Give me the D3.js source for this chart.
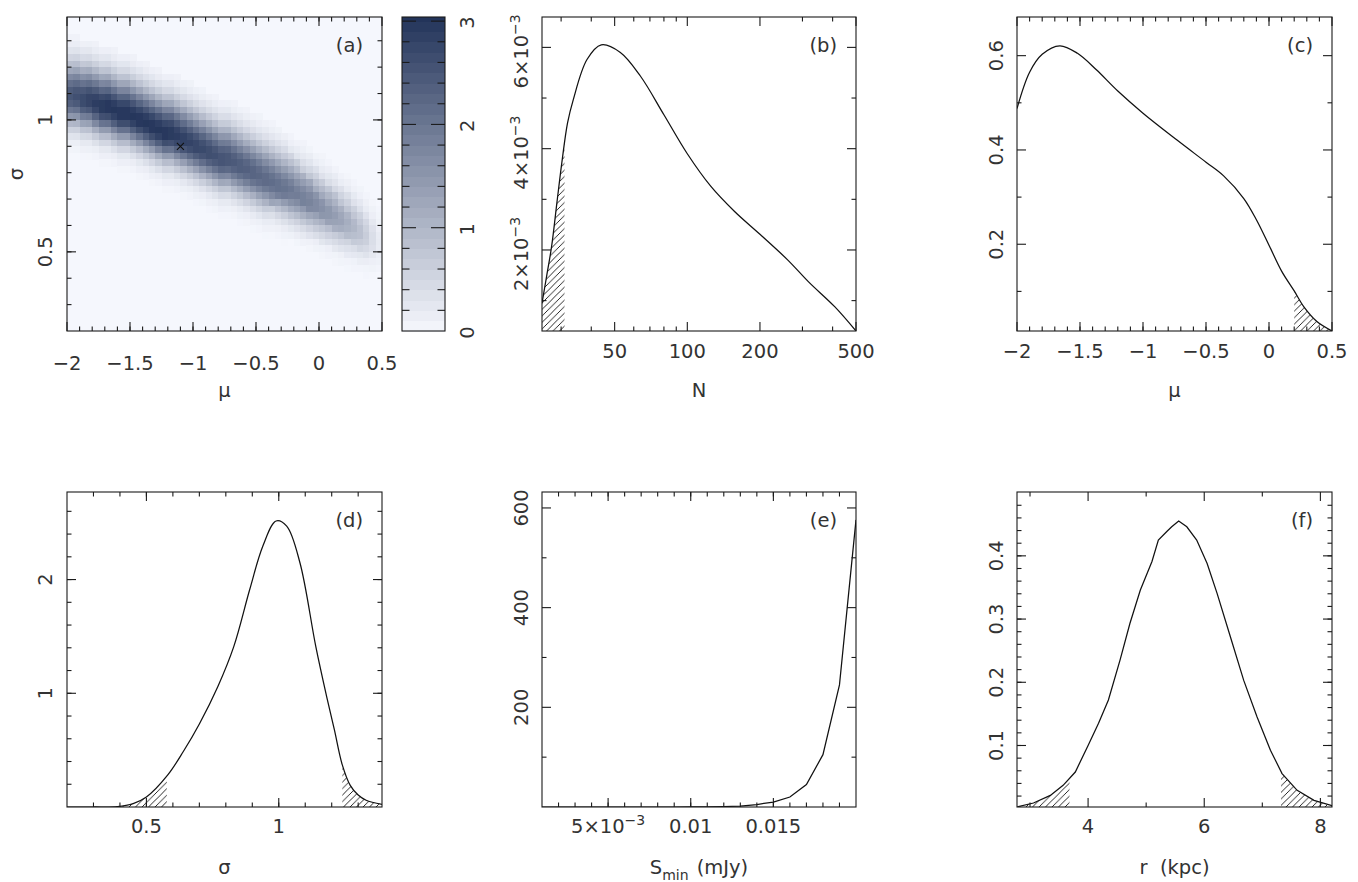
<!DOCTYPE html>
<html><head><meta charset="utf-8">
<script src="https://cdn.jsdelivr.net/npm/d3@7"></script>
<style>
body{margin:0;background:#fff;}
svg text{font-family:"DejaVu Sans",sans-serif;fill:#333;}
</style></head><body>
<svg id="chart" width="1358" height="882"></svg>
<script>
// ---------------- DATA ----------------
// (a) joint density in (mu, sigma). Grid: 50 mu-columns of 0.05 from -2, 48 sigma-rows of 0.025 down from 1.4.
// Per column: ridge centre in sigma, ridge peak density, relative band width.
const heatRidgeSigma = [1.088,1.082,1.076,1.069,1.062,1.055,1.047,1.039,1.030,1.021,1.012,1.001,0.990,0.979,0.967,0.956,0.944,0.933,0.922,0.911,
  0.900,0.889,0.878,0.867,0.856,0.845,0.834,0.823,0.812,0.801,0.790,0.778,0.766,0.754,0.742,0.730,0.717,0.704,0.690,0.676,
  0.662,0.648,0.634,0.620,0.605,0.590,0.575,0.560,0.545,0.530];
const heatRidgePeak = [2.5,2.6,2.7,2.8,2.9,2.95,3.0,3.0,3.0,3.0,3.0,3.0,3.0,3.0,3.0,3.0,2.95,2.9,2.85,2.8,
  2.75,2.7,2.65,2.6,2.55,2.5,2.45,2.4,2.35,2.3,2.25,2.2,2.15,2.1,2.05,2.0,1.9,1.85,1.8,1.7,
  1.6,1.5,1.4,1.3,1.15,1.0,0.85,0.65,0.4,0.2];
const heatBandWidth = [1,1,1,1,1,1,1,1,1,1,1,1,1,1,1,1,1,1,1,1,1,1,1,1,1,1,1,1,1,1,
  1,0.99,0.97,0.96,0.95,0.93,0.92,0.91,0.9,0.88,0.87,0.86,0.85,0.83,0.82,0.81,0.8,0.78,0.77,0.75];
// band cross-section (fraction of peak) at half-row steps, above (higher sigma) and below the ridge
const heatProfileUpper = [1,.99,.96,.91,.84,.76,.68,.59,.50,.42,.34,.27,.21,.16,.12,.09,.06,.04,.03];
const heatProfileLower = [1,.99,.94,.88,.79,.69,.59,.48,.39,.30,.23,.17,.12,.08,.05,.04,.02,.01,0];
const bestFit = {mu: -1.1, sigma: 0.9};

// (b) N
const bN = [25, 26.1, 27.4, 28.8, 30.2, 31.9, 33.7, 38.4, 44, 52.8, 64, 80, 100, 125, 157, 200, 261, 318, 408, 500];
const bP = [0.00095, 0.00147, 0.00207, 0.00292, 0.00372, 0.00451, 0.00497, 0.00576, 0.00605, 0.0059, 0.00543, 0.00467, 0.0039, 0.00326, 0.00276, 0.00231, 0.0018, 0.00137, 0.00088, 0.0004];
// (c) mu
const cMu = [-2, -1.9, -1.8, -1.66, -1.52, -1.37, -1.2, -1.0, -0.73, -0.5, -0.36, -0.2, -0.1, 0, 0.1, 0.2, 0.28, 0.38, 0.5];
const cP  = [0.488, 0.565, 0.603, 0.621, 0.605, 0.570, 0.525, 0.478, 0.421, 0.374, 0.345, 0.297, 0.252, 0.198, 0.143, 0.101, 0.066, 0.036, 0.016];
// (d) sigma
const dS = [0.2, 0.3, 0.39, 0.45, 0.5, 0.58, 0.64, 0.7, 0.77, 0.83, 0.89, 0.94, 0.99, 1.03, 1.08, 1.14, 1.18, 1.21, 1.24, 1.27, 1.30, 1.33, 1.39];
const dP = [0, 0, 0.003, 0.03, 0.088, 0.28, 0.49, 0.73, 1.06, 1.41, 1.91, 2.295, 2.515, 2.47, 2.148, 1.41, 0.98, 0.68, 0.37, 0.19, 0.105, 0.059, 0.024];
// (e) S_min
const eS = [0.001,0.002,0.003,0.004,0.005,0.006,0.007,0.008,0.009,0.010,0.011,0.012,0.013,0.014,0.015,0.016,0.017,0.018,0.019,0.020];
const eP = [0,0,0,0,0,0,0,0,0,0.1,0.3,0.8,2,5,10,20,45,105,245,576];
// (f) r
const fR = [2.78, 3.06, 3.35, 3.57, 3.78, 4.0, 4.18, 4.35, 4.55, 4.72, 4.9, 5.1, 5.21, 5.36, 5.44, 5.56, 5.7, 5.87, 6.05, 6.22, 6.45, 6.68, 6.91, 7.14, 7.34, 7.6, 7.89, 8.2];
const fP = [0.003, 0.009, 0.021, 0.037, 0.058, 0.100, 0.135, 0.172, 0.235, 0.293, 0.346, 0.391, 0.425, 0.439, 0.446, 0.455, 0.446, 0.425, 0.388, 0.341, 0.272, 0.203, 0.145, 0.0925, 0.0556, 0.029, 0.0133, 0.005];

// hatched (excluded) ranges
const bHatch = [[25, 31]];
const cHatch = [[0.2, 0.5]];
const dHatch = [[0.2, 0.577], [1.24, 1.39]];
const fHatch = [[2.776, 3.68], [7.32, 8.2]];

// tick labels
const muTicks = [-2, -1.5, -1, -0.5, 0, 0.5];
const muTickLabels = ["\u22122", "\u22121.5", "\u22121", "\u22120.5", "0", "0.5"];
const sigTicks = [0.5, 1];
const sigTickLabels = ["0.5", "1"];
const barTicks = [0, 1, 2, 3];
const barTickLabels = ["0", "1", "2", "3"];
const bXTicks = [50, 100, 200, 500];
const bXTickLabels = ["50", "100", "200", "500"];
const bXMinor = [30, 40, 60, 70, 80, 90, 300, 400];
const bYTicks = [0.002, 0.004, 0.006];
const bYTickMant = ["2", "4", "6"];
const cYTicks = [0.2, 0.4, 0.6];
const cYTickLabels = ["0.2", "0.4", "0.6"];
const dYTicks = [1, 2];
const dYTickLabels = ["1", "2"];
const eXTicks = [0.005, 0.01, 0.015];
const eXTickLabels = ["5\u00d710|\u22123", "0.01", "0.015"];
const eYTicks = [200, 400, 600];
const eYTickLabels = ["200", "400", "600"];
const fXTicks = [4, 6, 8];
const fXTickLabels = ["4", "6", "8"];
const fYTicks = [0.1, 0.2, 0.3, 0.4];
const fYTickLabels = ["0.1", "0.2", "0.3", "0.4"];

// ---------------- LAYOUT ----------------
const BOX = {
  a: {l: 67, r: 382, t: 17, b: 331}, bar: {l: 402, r: 445, t: 17, b: 331},
  b: {l: 542, r: 856, t: 17, b: 331}, c: {l: 1017, r: 1332, t: 17, b: 331},
  d: {l: 67, r: 382, t: 492, b: 807}, e: {l: 542, r: 856, t: 492, b: 807}, f: {l: 1017, r: 1332, t: 492, b: 807}
};
const FS = 19.5, MAJ = 9, MIN = 4.5;
const INK = "#1a1a1a";
const SMOOTH = d3.curveCatmullRom.alpha(0.5);

const svg = d3.select("#chart");
const defs = svg.append("defs");
const pat = defs.append("pattern").attr("id", "hatch").attr("patternUnits", "userSpaceOnUse")
  .attr("width", 6.5).attr("height", 6.5);
pat.append("path").attr("d", "M-1,1 L1,-1 M0,6.5 L6.5,0 M5.5,7.5 L7.5,5.5")
  .attr("stroke", "#111").attr("stroke-width", 0.9);

function range(a, b, s) { const out = []; for (let v = a; v <= b + s * 1e-6; v += s) out.push(+v.toFixed(6)); return out; }

function frame(box, xs, ys, xMaj, xMin, yMaj, yMin) {
  const g = svg.append("g").attr("stroke", INK).attr("stroke-width", 1.1).attr("fill", "none");
  xMin.forEach(v => { const x = xs(v); if (x < box.l + 0.5 || x > box.r - 0.5) return;
    g.append("line").attr("x1", x).attr("x2", x).attr("y1", box.b).attr("y2", box.b - MIN);
    g.append("line").attr("x1", x).attr("x2", x).attr("y1", box.t).attr("y2", box.t + MIN); });
  xMaj.forEach(v => { const x = xs(v);
    g.append("line").attr("x1", x).attr("x2", x).attr("y1", box.b).attr("y2", box.b - MAJ);
    g.append("line").attr("x1", x).attr("x2", x).attr("y1", box.t).attr("y2", box.t + MAJ); });
  yMin.forEach(v => { const y = ys(v); if (y < box.t + 0.5 || y > box.b - 0.5) return;
    g.append("line").attr("x1", box.l).attr("x2", box.l + MIN).attr("y1", y).attr("y2", y);
    g.append("line").attr("x1", box.r).attr("x2", box.r - MIN).attr("y1", y).attr("y2", y); });
  yMaj.forEach(v => { const y = ys(v);
    g.append("line").attr("x1", box.l).attr("x2", box.l + MAJ).attr("y1", y).attr("y2", y);
    g.append("line").attr("x1", box.r).attr("x2", box.r - MAJ).attr("y1", y).attr("y2", y); });
  g.append("rect").attr("x", box.l).attr("y", box.t).attr("width", box.r - box.l).attr("height", box.b - box.t);
}

function addText(g, str, attrs) {
  const t = g.append("text").attr("font-size", FS);
  Object.entries(attrs).forEach(([k, v]) => t.attr(k, v));
  const parts = str.split("|");
  t.append("tspan").text(parts[0]);
  if (parts.length > 1) t.append("tspan").attr("dy", -8).attr("font-size", 14).text(parts[1]);
  return t;
}
function xLabels(box, xs, ticks, labels, baseY) {
  const g = svg.append("g");
  ticks.forEach((v, i) => addText(g, labels[i], {x: xs(v), y: baseY, "text-anchor": "middle"}));
}
function yLabels(box, ys, ticks, labels, xBase) {
  const g = svg.append("g");
  ticks.forEach((v, i) => addText(g, labels[i], {transform: `translate(${xBase},${ys(v)}) rotate(-90)`, "text-anchor": "middle"}));
}
function panelTag(box, s) {
  svg.append("text").attr("font-size", FS).attr("x", box.r - 19).attr("y", box.t + 35).attr("text-anchor", "end").text(s);
}
function xTitle(box, s, y) {
  svg.append("text").attr("font-size", FS).attr("x", (box.l + box.r) / 2).attr("y", y).attr("text-anchor", "middle")
    .attr("xml:space", "preserve").style("white-space", "pre").text(s);
}

function curvePanel(key, xs, ys, xv, yv, hatches, curve) {
  const box = BOX[key];
  const pts = xv.map((x, i) => [x, yv[i]]);
  const clipId = "clip_" + key;
  defs.append("clipPath").attr("id", clipId).append("rect")
    .attr("x", box.l).attr("y", box.t).attr("width", box.r - box.l).attr("height", box.b - box.t);
  const area = d3.area().x(d => xs(d[0])).y0(box.b).y1(d => ys(d[1])).curve(curve);
  hatches.forEach((h, k) => {
    const hid = "hclip_" + key + k;
    const x0 = xs(h[0]), x1 = xs(h[1]);
    defs.append("clipPath").attr("id", hid).append("rect")
      .attr("x", x0).attr("y", box.t).attr("width", x1 - x0).attr("height", box.b - box.t);
    const g = svg.append("g").attr("clip-path", `url(#${clipId})`);
    g.append("path").datum(pts).attr("d", area).attr("fill", "url(#hatch)").attr("clip-path", `url(#${hid})`);
  });
  const line = d3.line().x(d => xs(d[0])).y(d => ys(d[1])).curve(curve);
  svg.append("g").attr("clip-path", `url(#${clipId})`).append("path").datum(pts).attr("d", line)
    .attr("fill", "none").attr("stroke", "#111").attr("stroke-width", 1.25);
}

// ---------------- (a) heatmap ----------------
{
  const box = BOX.a;
  const xs = d3.scaleLinear().domain([-2, 0.5]).range([box.l, box.r]);
  const ys = d3.scaleLinear().domain([0.2, 1.39]).range([box.b, box.t]);
  const color = d3.scaleLinear().domain([0, 3.04]).range(["#f5f7fd", "#23345a"]).interpolate(d3.interpolateRgb);
  defs.append("clipPath").attr("id", "clipA").append("rect")
    .attr("x", box.l).attr("y", box.t).attr("width", box.r - box.l).attr("height", box.b - box.t);
  const g = svg.append("g").attr("clip-path", "url(#clipA)").attr("shape-rendering", "crispEdges");
  g.append("rect").attr("x", box.l).attr("y", box.t).attr("width", box.r - box.l).attr("height", box.b - box.t).attr("fill", color(0));
  const cells = [];
  for (let j = 0; j < heatRidgeSigma.length; j++) {
    for (let row = 0; row < 48; row++) {
      const sig = 1.4 - 0.025 * (row + 0.5);
      const off = (sig - heatRidgeSigma[j]) / 0.025 / heatBandWidth[j];
      const prof = off >= 0 ? heatProfileUpper : heatProfileLower;
      const idx = Math.round(Math.abs(off) * 2);
      if (idx >= prof.length) continue;
      const v = heatRidgePeak[j] * prof[idx];
      if (v > 0.02) cells.push({j, row, v});
    }
  }
  g.selectAll("rect.cell").data(cells).enter().append("rect").attr("class", "cell")
    .attr("x", d => xs(-2 + 0.05 * d.j))
    .attr("width", d => xs(-2 + 0.05 * (d.j + 1)) - xs(-2 + 0.05 * d.j) + 0.6)
    .attr("y", d => ys(1.4 - 0.025 * d.row))
    .attr("height", d => ys(1.4 - 0.025 * (d.row + 1)) - ys(1.4 - 0.025 * d.row) + 0.6)
    .attr("fill", d => color(d.v));
  const mx = xs(bestFit.mu), my = ys(bestFit.sigma);
  svg.append("path").attr("d", `M${mx-3.5},${my-3.5}L${mx+3.5},${my+3.5}M${mx-3.5},${my+3.5}L${mx+3.5},${my-3.5}`)
    .attr("stroke", "#111").attr("stroke-width", 1.1);
  frame(box, xs, ys, muTicks, range(-2, 0.5, 0.1), sigTicks, range(0.2, 1.3, 0.1));
  xLabels(box, xs, muTicks, muTickLabels, 370);
  yLabels(box, ys, sigTicks, sigTickLabels, box.l - 15);
  panelTag(box, "(a)");
  xTitle(box, "\u03bc", 397);
  svg.append("text").attr("font-size", FS).attr("transform", `translate(23,${(box.t + box.b) / 2}) rotate(-90)`)
    .attr("text-anchor", "middle").text("\u03c3");

  // colorbar
  const bb = BOX.bar;
  const cs = d3.scaleLinear().domain([0, 3.04]).range([bb.b, bb.t]);
  const levels = range(0, 3.0, 0.1);
  const cg = svg.append("g").attr("shape-rendering", "crispEdges");
  cg.selectAll("rect").data(levels).enter().append("rect")
    .attr("x", bb.l).attr("width", bb.r - bb.l)
    .attr("y", d => cs(Math.min(d + 0.1, 3.04)))
    .attr("height", d => cs(d) - cs(Math.min(d + 0.1, 3.04)) + 0.5)
    .attr("fill", d => color(d + 0.05));
  cg.append("rect").attr("x", bb.l).attr("width", bb.r - bb.l).attr("y", bb.t).attr("height", cs(3.0) - bb.t + 0.5).attr("fill", color(3.04));
  const tg = svg.append("g").attr("stroke", INK).attr("stroke-width", 1.1);
  range(0.2, 3.0, 0.2).forEach(v => {
    const major = Math.abs(v - Math.round(v)) < 1e-6;
    const L = major ? 14 : 7.5, y = cs(v);
    tg.append("line").attr("x1", bb.l).attr("x2", bb.l + L).attr("y1", y).attr("y2", y);
    tg.append("line").attr("x1", bb.r).attr("x2", bb.r - L).attr("y1", y).attr("y2", y);
  });
  tg.append("rect").attr("x", bb.l).attr("y", bb.t).attr("width", bb.r - bb.l).attr("height", bb.b - bb.t).attr("fill", "none");
  const lg = svg.append("g");
  barTicks.forEach((v, i) => addText(lg, barTickLabels[i], {transform: `translate(474,${cs(v) + 1.5}) rotate(-90)`, "text-anchor": "middle"}));
}

// ---------------- (b) N ----------------
{
  const box = BOX.b;
  const xs = d3.scaleLog().domain([25, 500]).range([box.l, box.r]);
  const ys = d3.scaleLinear().domain([0.0004, 0.0066]).range([box.b, box.t]);
  curvePanel("b", xs, ys, bN, bP, bHatch, SMOOTH);
  frame(box, xs, ys, bXTicks, bXMinor, bYTicks, [0.001, 0.003, 0.005]);
  xLabels(box, xs, bXTicks, bXTickLabels, 358);
  const g = svg.append("g");
  bYTicks.forEach((v, i) => addText(g, bYTickMant[i] + "\u00d710|\u22123", {transform: `translate(${box.l - 14},${ys(v) + 4}) rotate(-90)`, "text-anchor": "middle"}));
  panelTag(box, "(b)");
  xTitle(box, "N", 397);
}

// ---------------- (c) mu ----------------
{
  const box = BOX.c;
  const xs = d3.scaleLinear().domain([-2, 0.5]).range([box.l, box.r]);
  const ys = d3.scaleLinear().domain([0.016, 0.682]).range([box.b, box.t]);
  curvePanel("c", xs, ys, cMu, cP, cHatch, SMOOTH);
  frame(box, xs, ys, muTicks, range(-2, 0.5, 0.1), cYTicks, [0.1, 0.3, 0.5]);
  xLabels(box, xs, muTicks, muTickLabels, 358);
  yLabels(box, ys, cYTicks, cYTickLabels, box.l - 14);
  panelTag(box, "(c)");
  xTitle(box, "\u03bc", 397);
}

// ---------------- (d) sigma ----------------
{
  const box = BOX.d;
  const xs = d3.scaleLinear().domain([0.2, 1.39]).range([box.l, box.r]);
  const ys = d3.scaleLinear().domain([0, 2.77]).range([box.b, box.t]);
  curvePanel("d", xs, ys, dS, dP, dHatch, SMOOTH);
  frame(box, xs, ys, sigTicks, range(0.3, 1.3, 0.1), dYTicks, range(0.2, 2.6, 0.2));
  xLabels(box, xs, sigTicks, sigTickLabels, 833);
  yLabels(box, ys, dYTicks, dYTickLabels, box.l - 15);
  panelTag(box, "(d)");
  xTitle(box, "\u03c3", 874);
}

// ---------------- (e) S_min ----------------
{
  const box = BOX.e;
  const xs = d3.scaleLinear().domain([0.001, 0.02]).range([box.l, box.r]);
  const ys = d3.scaleLinear().domain([0, 632]).range([box.b, box.t]);
  curvePanel("e", xs, ys, eS, eP, [], d3.curveLinear);
  frame(box, xs, ys, eXTicks, range(0.002, 0.019, 0.001), eYTicks, [100, 300, 500]);
  xLabels(box, xs, eXTicks, eXTickLabels, 833);
  yLabels(box, ys, eYTicks, eYTickLabels, box.l - 14);
  panelTag(box, "(e)");
  const t = svg.append("text").attr("font-size", FS).attr("x", (box.l + box.r) / 2).attr("y", 874).attr("text-anchor", "middle");
  t.append("tspan").text("S");
  t.append("tspan").attr("dy", 6).attr("font-size", 14).text("min");
  t.append("tspan").attr("dy", -6).attr("dx", 8).text("(mJy)");
}

// ---------------- (f) r ----------------
{
  const box = BOX.f;
  const xs = d3.scaleLinear().domain([2.776, 8.2]).range([box.l, box.r]);
  const ys = d3.scaleLinear().domain([0.0027, 0.501]).range([box.b, box.t]);
  curvePanel("f", xs, ys, fR, fP, fHatch, d3.curveLinear);
  frame(box, xs, ys, fXTicks, [3, 5, 7], fYTicks, range(0.02, 0.48, 0.02));
  xLabels(box, xs, fXTicks, fXTickLabels, 833);
  yLabels(box, ys, fYTicks, fYTickLabels, box.l - 14);
  panelTag(box, "(f)");
  xTitle(box, "r  (kpc)", 874);
}
</script>
</body></html>
